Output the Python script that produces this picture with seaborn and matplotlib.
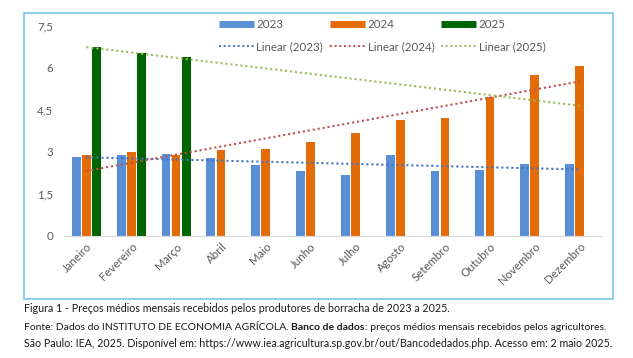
import numpy as np
import pandas as pd
import seaborn as sns
import matplotlib.pyplot as plt
from matplotlib.lines import Line2D
from matplotlib.patches import Rectangle

meses = ['Janeiro', 'Fevereiro', 'Março', 'Abril', 'Maio', 'Junho', 'Julho',
         'Agosto', 'Setembro', 'Outubro', 'Novembro', 'Dezembro']
anos = ['2023', '2024', '2025']
precos_2023 = [2.83, 2.89, 2.93, 2.77, 2.52, 2.32, 2.17, 2.89, 2.31, 2.36, 2.56, 2.56]
precos_2024 = [2.90, 3.00, 2.88, 3.06, 3.10, 3.35, 3.68, 4.14, 4.20, 4.95, 5.75, 6.06]
precos_2025 = [6.76, 6.52, 6.38]
yticks = [0, 1.5, 3, 4.5, 6, 7.5]
ytick_labels = ['0', '1,5', '3', '4,5', '6', '7,5']

cores = {'2023': '#5B8FD5', '2024': '#E36C09', '2025': '#006400'}
cores_trend = {'2023': '#4472C4', '2024': '#C0504D', '2025': '#9BBB59'}

linhas = []
for ano, vals in zip(anos, [precos_2023, precos_2024, precos_2025]):
    for mes, v in zip(meses, vals):
        linhas.append([mes, ano, v])
df = pd.DataFrame(linhas, columns=['mes', 'ano', 'preco'])

sns.set_style('white')
plt.rcParams['font.family'] = ['Lato', 'DejaVu Sans']

fig = plt.figure(figsize=(6.33, 3.58), dpi=100)
ax = fig.add_axes([64 / 633, 1 - 236 / 358, (602 - 64) / 633, (236 - 26) / 358])

sns.barplot(data=df, x='mes', y='preco', hue='ano', order=meses, hue_order=anos,
            palette=cores, width=0.67, gap=0.12, saturation=1, linewidth=0,
            ax=ax, legend=False)

# linhas de tendencia (ajuste linear, como no Excel)
xs = np.arange(len(meses))
for ano, vals in zip(anos, [precos_2023, precos_2024, precos_2025]):
    x = np.arange(len(vals))
    a, b = np.polyfit(x, vals, 1)
    ax.plot(xs, a * xs + b, color=cores_trend[ano], lw=1.5, ls=(0, (1, 1.4)))

ax.set_ylim(0, 7.5)
ax.set_xlim(-0.5, 11.5)
ax.set_yticks(yticks)
ax.set_yticklabels(ytick_labels)
ax.set_xlabel('')
ax.set_ylabel('')
ax.tick_params(axis='both', length=0, colors='#595959', labelsize=8.3)
ax.tick_params(axis='y', pad=8)
plt.setp(ax.get_xticklabels(), rotation=45, ha='right', rotation_mode='anchor')
for s in ['left', 'right', 'top']:
    ax.spines[s].set_visible(False)
ax.spines['bottom'].set_color('#D9D9D9')
ax.grid(False)

handles = []
labels = []
for ano in anos:
    handles.append(Line2D([], [], color=cores[ano], lw=5, solid_capstyle='butt'))
    labels.append(ano)
    handles.append(Line2D([], [], color=cores_trend[ano], lw=1.4, ls=(0, (1, 1.4))))
    labels.append('Linear (' + ano + ')')
fig.legend(handles, labels, ncol=3, loc='upper left', frameon=False,
           bbox_to_anchor=(219 / 633, 1 - 19 / 358), bbox_transform=fig.transFigure,
           borderpad=0, borderaxespad=0, fontsize=8.3, handlelength=3.0,
           handletextpad=0.25, columnspacing=0.6, labelspacing=1.0,
           labelcolor='#595959')

fig.patches.append(Rectangle((24 / 633, 1 - 299 / 358), (613 - 24) / 633, (299 - 13) / 358,
                             transform=fig.transFigure, fill=False,
                             edgecolor='#7FCCEB', lw=1.3))

# legenda da figura (texto abaixo do grafico)
renderer = fig.canvas.get_renderer()


def escreve(partes, x0, y, fs):
    x = x0
    for txt, peso in partes:
        t = fig.text(x, y, txt, fontsize=fs, fontweight=peso, color='#1A1A1A',
                     ha='left', va='baseline', family=['Lato', 'DejaVu Sans'])
        bb = t.get_window_extent(renderer)
        x += bb.width / fig.bbox.width


fs = 7.65
escreve([('Figura 1 - Preços médios mensais recebidos pelos produtores de borracha de 2023 a 2025.', 'normal')],
        24 / 633, 1 - 312 / 358, fs)
escreve([('Fonte: Dados do INSTITUTO DE ECONOMIA AGRÍCOLA. ', 'normal'), ('Banco de dados', 'bold'),
         (': preços médios mensais recebidos pelos agricultores.', 'normal')],
        24 / 633, 1 - 330 / 358, 7.5)
escreve([('São Paulo: IEA, 2025. Disponível em: https://www.iea.agricultura.sp.gov.br/out/Bancodedados.php. Acesso em: 2 maio 2025.', 'normal')],
        24 / 633, 1 - 347 / 358, fs)

fig.savefig('out.png', dpi=100)
